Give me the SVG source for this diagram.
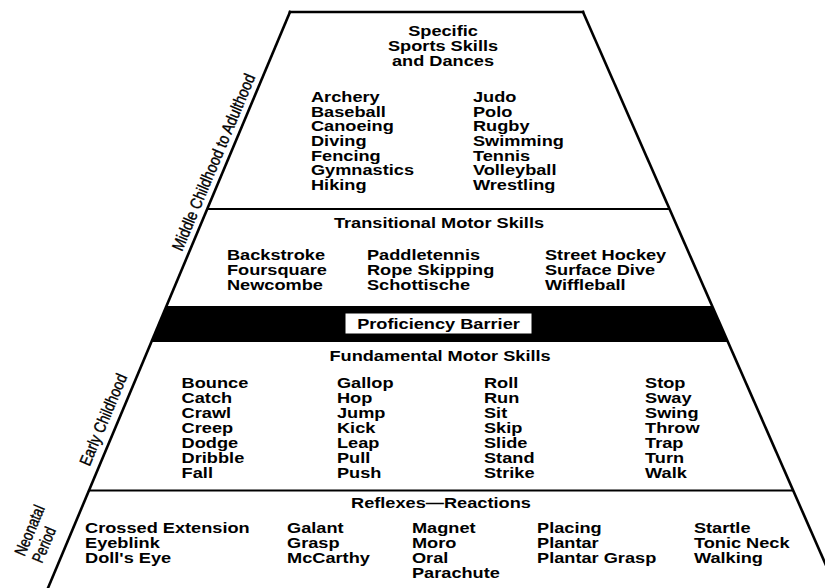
<svg xmlns="http://www.w3.org/2000/svg" width="825" height="588" viewBox="0 0 825 588">
<style>
.t{font-family:"Liberation Sans",Arial,Helvetica,sans-serif;font-size:14px;font-weight:bold;fill:#000}
.m{text-anchor:middle}
.lab{font-family:"Liberation Sans",Arial,Helvetica,sans-serif;font-size:16.5px;fill:#000;stroke:#000;stroke-width:0.4}
.edge{stroke:#000;stroke-width:2.6;fill:none;stroke-linecap:square}
.div{stroke:#000;stroke-width:2;fill:none}
</style>
<rect width="825" height="588" fill="#fff"/>
<g id="frame">
<polygon points="290,12 583,12 836,588 48,588" fill="#fff"/>
<polygon points="166.5,306 712.4,306 728.2,342 151.4,342" fill="#000"/>
<line class="div" x1="207.3" y1="209" x2="669.7" y2="209"/>
<line class="div" x1="89" y1="490.5" x2="793.5" y2="490.5"/>
<line class="edge" x1="290" y1="12" x2="583" y2="12"/>
<line class="edge" x1="290" y1="12" x2="48" y2="588"/>
<line class="edge" x1="583" y1="12" x2="836" y2="588"/>
</g>
<g id="specific">
<g transform="scale(1.3,1)">
<text class="t m" x="340.8" y="36">Specific</text>
<text class="t m" x="340.8" y="51">Sports Skills</text>
<text class="t m" x="340.8" y="66">and Dances</text>
<text class="t" x="239.2" y="102">Archery</text>
<text class="t" x="239.2" y="116.7">Baseball</text>
<text class="t" x="239.2" y="131.4">Canoeing</text>
<text class="t" x="239.2" y="146.1">Diving</text>
<text class="t" x="239.2" y="160.8">Fencing</text>
<text class="t" x="239.2" y="175.5">Gymnastics</text>
<text class="t" x="239.2" y="190.2">Hiking</text>
<text class="t" x="363.8" y="102">Judo</text>
<text class="t" x="363.8" y="116.7">Polo</text>
<text class="t" x="363.8" y="131.4">Rugby</text>
<text class="t" x="363.8" y="146.1">Swimming</text>
<text class="t" x="363.8" y="160.8">Tennis</text>
<text class="t" x="363.8" y="175.5">Volleyball</text>
<text class="t" x="363.8" y="190.2">Wrestling</text>
</g>
</g>
<g id="transitional">
<g transform="scale(1.3,1)">
<text class="t m" x="337.7" y="228.5">Transitional Motor Skills</text>
<text class="t" x="174.6" y="260.5">Backstroke</text>
<text class="t" x="174.6" y="275.5">Foursquare</text>
<text class="t" x="174.6" y="290.5">Newcombe</text>
<text class="t" x="282.3" y="260.5">Paddletennis</text>
<text class="t" x="282.3" y="275.5">Rope Skipping</text>
<text class="t" x="282.3" y="290.5">Schottische</text>
<text class="t" x="419.2" y="260.5">Street Hockey</text>
<text class="t" x="419.2" y="275.5">Surface Dive</text>
<text class="t" x="419.2" y="290.5">Wiffleball</text>
</g>
</g>
<g id="barrier">
<rect x="345" y="313" width="187" height="21" fill="#fff" stroke="#000" stroke-width="1"/>
<g transform="scale(1.3,1)">
<text class="t m" x="337.3" y="329">Proficiency Barrier</text>
</g>
</g>
<g id="fundamental">
<g transform="scale(1.3,1)">
<text class="t m" x="338.5" y="361">Fundamental Motor Skills</text>
<text class="t" x="139.7" y="388.5">Bounce</text>
<text class="t" x="139.7" y="403.5">Catch</text>
<text class="t" x="139.7" y="418.5">Crawl</text>
<text class="t" x="139.7" y="433.5">Creep</text>
<text class="t" x="139.7" y="448.5">Dodge</text>
<text class="t" x="139.7" y="463.5">Dribble</text>
<text class="t" x="139.7" y="478.5">Fall</text>
<text class="t" x="259.2" y="388.5">Gallop</text>
<text class="t" x="259.2" y="403.5">Hop</text>
<text class="t" x="259.2" y="418.5">Jump</text>
<text class="t" x="259.2" y="433.5">Kick</text>
<text class="t" x="259.2" y="448.5">Leap</text>
<text class="t" x="259.2" y="463.5">Pull</text>
<text class="t" x="259.2" y="478.5">Push</text>
<text class="t" x="372.3" y="388.5">Roll</text>
<text class="t" x="372.3" y="403.5">Run</text>
<text class="t" x="372.3" y="418.5">Sit</text>
<text class="t" x="372.3" y="433.5">Skip</text>
<text class="t" x="372.3" y="448.5">Slide</text>
<text class="t" x="372.3" y="463.5">Stand</text>
<text class="t" x="372.3" y="478.5">Strike</text>
<text class="t" x="496.2" y="388.5">Stop</text>
<text class="t" x="496.2" y="403.5">Sway</text>
<text class="t" x="496.2" y="418.5">Swing</text>
<text class="t" x="496.2" y="433.5">Throw</text>
<text class="t" x="496.2" y="448.5">Trap</text>
<text class="t" x="496.2" y="463.5">Turn</text>
<text class="t" x="496.2" y="478.5">Walk</text>
</g>
</g>
<g id="reflexes">
<g transform="scale(1.3,1)">
<text class="t m" x="339.2" y="508">Reflexes—Reactions</text>
<text class="t" x="65.4" y="533">Crossed Extension</text>
<text class="t" x="65.4" y="548">Eyeblink</text>
<text class="t" x="65.4" y="563">Doll's Eye</text>
<text class="t" x="220.8" y="533">Galant</text>
<text class="t" x="220.8" y="548">Grasp</text>
<text class="t" x="220.8" y="563">McCarthy</text>
<text class="t" x="316.9" y="533">Magnet</text>
<text class="t" x="316.9" y="548">Moro</text>
<text class="t" x="316.9" y="563">Oral</text>
<text class="t" x="316.9" y="578">Parachute</text>
<text class="t" x="413.1" y="533">Placing</text>
<text class="t" x="413.1" y="548">Plantar</text>
<text class="t" x="413.1" y="563">Plantar Grasp</text>
<text class="t" x="533.8" y="533">Startle</text>
<text class="t" x="533.8" y="548">Tonic Neck</text>
<text class="t" x="533.8" y="563">Walking</text>
</g>
</g>
<g id="age-labels">
<text class="lab" transform="translate(182,252) rotate(-67.2)" textLength="190" lengthAdjust="spacingAndGlyphs">Middle Childhood to Adulthood</text>
<text class="lab" transform="translate(89.5,467) rotate(-67.2)" textLength="98" lengthAdjust="spacingAndGlyphs">Early Childhood</text>
<text class="lab" transform="translate(24.5,557) rotate(-67.2)" textLength="53" lengthAdjust="spacingAndGlyphs">Neonatal</text>
<text class="lab" transform="translate(42,564) rotate(-67.2)" textLength="37" lengthAdjust="spacingAndGlyphs">Period</text>
</g>
</svg>
